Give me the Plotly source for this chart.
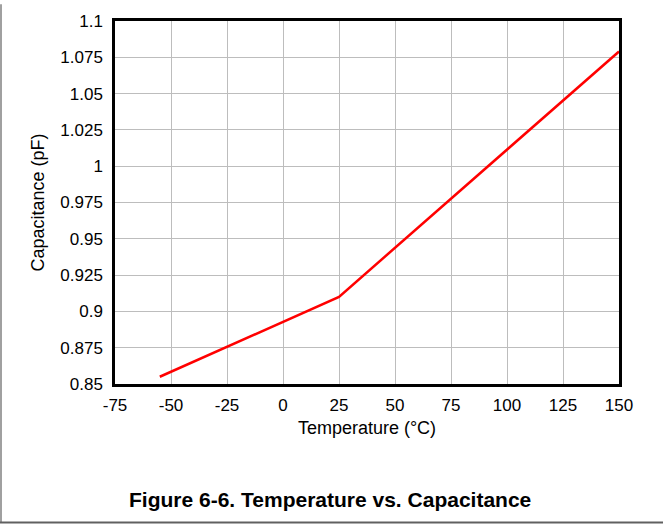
import plotly.graph_objects as go

temperature = [-55, 25, 150]
capacitance = [0.855, 0.910, 1.079]

x_ticks = [-75, -50, -25, 0, 25, 50, 75, 100, 125, 150]
x_tick_labels = ["-75", "-50", "-25", "0", "25", "50", "75", "100", "125", "150"]
y_ticks = [0.85, 0.875, 0.9, 0.925, 0.95, 0.975, 1.0, 1.025, 1.05, 1.075, 1.1]
y_tick_labels = ["0.85", "0.875", "0.9", "0.925", "0.95", "0.975", "1", "1.025", "1.05", "1.075", "1.1"]

W, H = 663, 529
L, R, T, B = 115, 44, 17, 145
pw, ph = W - L - R, H - T - B


def px_x(sx):
    return (sx - L) / pw


def px_y(sy):
    return (H - B - sy) / ph


fig = go.Figure()
fig.add_trace(go.Scatter(x=temperature, y=capacitance, mode="lines",
                         line=dict(color="#ff0000", width=2.5), showlegend=False))

font = "Liberation Sans, Arial, sans-serif"
fig.update_layout(
    width=W, height=H,
    margin=dict(l=L, r=R, t=T, b=B),
    paper_bgcolor="white", plot_bgcolor="white",
    font=dict(family=font, color="black"),
    xaxis=dict(range=[-75, 150], tickvals=x_ticks, ticktext=x_tick_labels, ticks="", showgrid=True,
               gridcolor="#bdbdbd", gridwidth=1, zeroline=False,
               showline=True, linecolor="black", linewidth=2.5, mirror=True,
               ticklabelstandoff=4,
               tickfont=dict(size=17), title=dict(text="Temperature (°C)", font=dict(size=18), standoff=8)),
    yaxis=dict(range=[0.85, 1.1], tickvals=y_ticks, ticktext=y_tick_labels, ticks="",
               showgrid=True, gridcolor="#bdbdbd", gridwidth=1, zeroline=False,
               showline=True, linecolor="black", linewidth=2.5, mirror=True,
               ticklabelstandoff=6,
               tickfont=dict(size=17), title=dict(text="Capacitance (pF)", font=dict(size=18), standoff=12)),
    annotations=[dict(text="<b>Figure 6-6. Temperature vs. Capacitance</b>", xref="paper", yref="paper",
                      x=px_x(330), y=px_y(501), xanchor="center", yanchor="middle",
                      showarrow=False, font=dict(size=21, family=font))],
    shapes=[
        dict(type="line", xref="paper", yref="paper", x0=px_x(1), x1=px_x(1),
             y0=px_y(0), y1=px_y(524), line=dict(color="#808080", width=1.5)),
        dict(type="line", xref="paper", yref="paper", x0=px_x(0), x1=px_x(663),
             y0=px_y(524), y1=px_y(524), line=dict(color="#606060", width=2)),
    ],
)
fig.write_html("out.html", config={"displayModeBar": False},
               post_script="document.body.style.margin='0';")
